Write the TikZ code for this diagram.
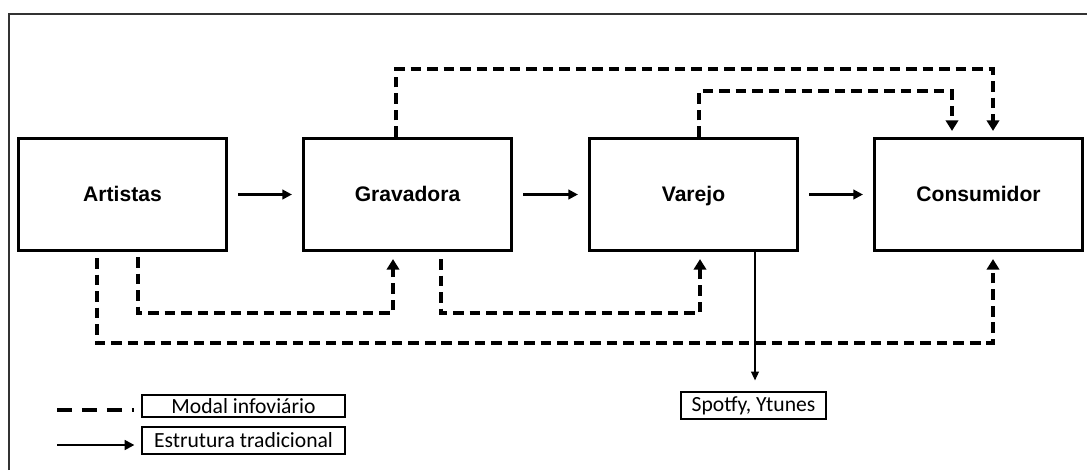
\documentclass[tikz,border=0pt]{standalone}
\usepackage{fontspec}
\setmainfont{Liberation Sans}
\newfontfamily\carlito{Carlito}
\usetikzlibrary{calc,arrows.meta}

\begin{document}
\begin{tikzpicture}[x=0.02cm, y=-0.02cm,
    agent/.style={draw, line width=1.8pt, minimum width=4.16cm,
      minimum height=2.24cm, text height=2ex, text depth=0.6ex,
      font=\bfseries\fontsize{12}{14}\selectfont},
    tag/.style={draw, line width=0.7pt, inner sep=0pt,
      font=\carlito\fontsize{12.3}{14}\selectfont},
    dashline/.style={line width=2pt, dash pattern=on 6pt off 3.4pt},
    infoline/.style={dashline, -{Triangle[width=7pt,length=6pt]}},
    tradline/.style={line width=1.3pt, -{Triangle[width=5.5pt,length=5.5pt]},
      shorten <=0.2cm, shorten >=0.2cm}]
  \useasboundingbox (0,0) rectangle (1087,470);
  \draw[line width=0.9pt, black!80] (9,470) -- (9,14) -- (1087,14);

  % the four links of the chain
  \node[agent] (art)  at (122.5,194.5) {Artistas};
  \node[agent] (grav) at (407.5,194.5) {Gravadora};
  \node[agent] (var)  at (693.5,194.5) {Varejo};
  \node[agent] (cons) at (978.5,194.5) {Consumidor};

  \draw[tradline] (art) -- (grav);
  \draw[tradline] (grav) -- (var);
  \draw[tradline] (var) -- (cons);

  % levels of the dashed paths
  \coordinate (topout) at (0,69);
  \coordinate (topin)  at (0,91);
  \coordinate (botin)  at (0,313);
  \coordinate (botout) at (0,343);

  \coordinate (g1) at ($(grav.north)+(-11.5,0)$);
  \coordinate (v1) at ($(var.north)+(5.5,0)$);
  \coordinate (c1) at ($(cons.north)+(-26.5,0)$);
  \coordinate (c2) at ($(cons.north)+(14.5,0)$);
  \draw[infoline, shorten >=0.12cm] (g1) |- (topout -| c2) -- (c2);
  \draw[infoline, shorten >=0.12cm] (v1) |- (topin -| c1) -- (c1);

  \coordinate (a1) at ($(art.south)+(-25.5,0)$);
  \coordinate (a2) at ($(art.south)+(15.5,0)$);
  \coordinate (g2) at ($(grav.south)+(-14.5,0)$);
  \coordinate (g3) at ($(grav.south)+(33.5,0)$);
  \coordinate (v2) at ($(var.south)+(6.5,0)$);
  \coordinate (c3) at ($(cons.south)+(14.5,0)$);
  \draw[infoline, shorten <=0.12cm, shorten >=0.14cm] (a1) |- (botout -| c3) -- (c3);
  \draw[infoline, shorten <=0.1cm, shorten >=0.14cm] (a2) |- (botin -| g2) -- (g2);
  \draw[infoline, shorten <=0.14cm, shorten >=0.14cm] (g3) |- (botin -| v2) -- (v2);

  % digital outlet
  \node[tag, minimum width=2.9cm, minimum height=0.54cm] (spot) at (753.5,405.5) {Spotfy, Ytunes};
  \coordinate (v3) at ($(var.south)+(61.5,0)$);
  \draw[line width=0.7pt, -{Triangle[width=4.5pt,length=5pt]}, shorten >=0.22cm]
    (v3) -- (v3 |- spot.north);

  % legend
  \node[tag, minimum width=4.06cm, minimum height=0.44cm] (modal) at (243.5,406) {Modal infoviário};
  \node[tag, minimum width=4.06cm, minimum height=0.54cm] (trad) at (243.5,440.5) {Estrutura tradicional};
  \coordinate (l1) at (57,410);
  \coordinate (l2) at (57,445);
  \draw[line width=1.8pt, dash pattern=on 0.3cm off 0.2cm, shorten >=0.14cm] (l1) -- (l1 -| modal.west);
  \draw[line width=1.3pt, -{Triangle[width=5.5pt,length=5.5pt]}, shorten >=0.14cm] (l2) -- (l2 -| trad.west);
\end{tikzpicture}
\end{document}
